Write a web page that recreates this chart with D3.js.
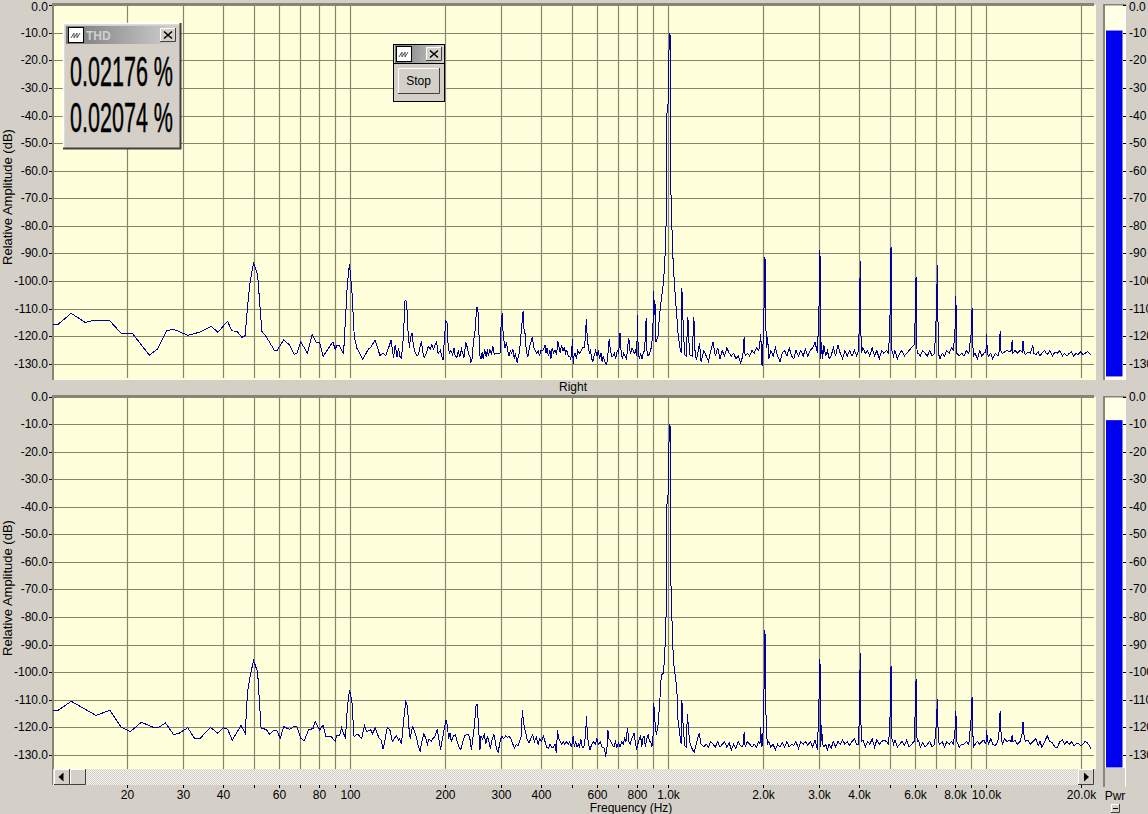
<!DOCTYPE html>
<html><head><meta charset="utf-8">
<script src="https://cdn.jsdelivr.net/npm/d3@7/dist/d3.min.js"></script>
<style>
html,body{margin:0;padding:0;background:#d4d0c8;overflow:hidden}
svg{display:block}
text{font-family:"Liberation Sans",Arial,sans-serif;font-size:12px;fill:#000}
</style></head><body>
<svg id="c" width="1148" height="814"></svg>
<script>
const dbTicks=[0,-10,-20,-30,-40,-50,-60,-70,-80,-90,-100,-110,-120,-130];
const freqGrid=[20,30,40,50,60,70,80,90,100,200,300,400,500,600,700,800,900,1000,2000,3000,4000,5000,6000,7000,8000,9000,10000,20000];
const freqLabels={20:"20",30:"30",40:"40",60:"60",80:"80",100:"100",200:"200",300:"300",400:"400",600:"600",800:"800",1000:"1.0k",2000:"2.0k",3000:"3.0k",4000:"4.0k",6000:"6.0k",8000:"8.0k",10000:"10.0k",20000:"20.0k"};
const thdReadings=["0.02176 %","0.02074 %"];
const pwrLevels=[-9,-8.4];
const pwrFloor=-134.4;

const leftLow=[[11.7,-115.5],[12.1,-115.5],[13.3,-111.5],[14.7,-114.8],[15.4,-114.3],[17.6,-114.3],[19.1,-118.8],[20.7,-118.8],[23.4,-126.7],[24.9,-124.3],[26.5,-117.8],[27.9,-117.3],[30.9,-119.5],[33.8,-118.3],[36.6,-116.2],[38.4,-118.4],[41.2,-114.4],[42.5,-117.9],[44.1,-118],[45.7,-120.2],[46.8,-119.6],[47.6,-109],[48.5,-100],[49.7,-93.3],[51.2,-97.6],[52.8,-118.1],[54.5,-120],[57.7,-124.8],[58.9,-125],[61.8,-121.2],[64.5,-123],[66.7,-126.4],[68,-126],[70,-121.9],[73.4,-126],[76,-119.1],[78.3,-122.1],[80.2,-122.1],[82.2,-127.2],[85.5,-124.2],[88.2,-121.9],[89.7,-124.5],[90.8,-123.3],[92.6,-123.3],[95.3,-126.4],[96.6,-113.9],[98,-100.6],[99.5,-93.6],[101.2,-103],[103,-120],[105,-124.2],[109.6,-128.2],[114,-124.5],[116,-123.8],[119.8,-121.2],[124,-126.8],[127,-125.9],[129.4,-126.8],[131.9,-124.2],[134.5,-121.2],[136.9,-127.8],[138.5,-123],[140.4,-127.4],[142,-124]];
const leftMid=[[143,-127],[145,-127.8],[147,-120],[148.8,-106.6],[150.5,-107.3],[152,-118],[153.5,-124],[155,-120],[156.5,-118.5],[158,-123],[160,-125.5],[162.5,-127],[164,-126.5],[166,-123.5],[167.5,-121.5],[169,-125.5],[171,-127.5],[173.5,-126],[176,-123.5],[178.5,-124.5],[180.5,-123],[183,-124.5],[185,-123],[187,-121.8],[189,-126],[192,-125],[194.5,-127.5],[196,-128.5],[198,-120],[200,-114.3],[201.5,-114.5],[203,-122],[205,-126],[207.5,-125],[210,-126.5],[212,-124],[214,-127],[216.5,-127.5],[219,-125],[221,-127.5],[224,-124.5],[226,-126],[228,-127.5],[231,-122],[233,-123.5],[236,-126.5],[238,-127],[239.5,-129.5],[242,-128],[244,-122],[247,-118],[250,-109.5],[252,-109.3],[254,-118.5],[256,-127],[258,-128],[260,-125.5],[262,-128],[265,-124.5],[268,-127.5],[270,-124.5],[272,-127],[275,-124.5],[278,-126.5],[281,-123.5],[284,-126.5],[288,-126],[292,-126],[296,-126],[299,-112.5],[301,-112],[303,-120],[305,-122],[307,-124],[310,-122],[313,-125],[316,-127],[319,-125],[322,-126],[325,-124.5],[328,-128],[331,-126],[335,-129.5],[338,-127],[341,-125.5],[344,-120],[347,-115],[350,-110.6],[352,-117],[355,-119],[358,-125],[362,-127.5],[366,-124],[370,-122],[374,-120],[378,-124],[382,-125],[386,-126],[390,-125],[394,-127],[398,-125],[403,-125],[408,-124],[410,-123],[413,-126],[416,-124],[420,-127],[425,-125],[428,-128],[432,-124],[436,-126],[441,-125],[446,-126.5],[450,-121.5],[454,-124],[458,-126],[462,-123],[467,-125],[472,-124],[476,-126],[480,-125],[485,-127],[490,-127],[494,-128],[497,-126],[500,-121],[503,-130],[506,-127],[510,-126],[515,-128],[520,-125],[525,-126],[530,-125.5],[538,-124],[545,-124],[550,-120],[553,-113.5],[556,-119],[560,-123],[565,-126],[570,-125],[575,-128],[580,-129],[585,-127],[592,-125],[598,-127],[604,-125],[608,-128],[615,-126],[620,-129],[625,-127],[632,-129],[640,-130],[645,-128],[651,-122],[653,-121],[657,-124],[664,-127],[670,-127],[678,-126],[684,-128],[692,-125],[700,-126],[703,-119],[707,-119],[712,-126],[718,-128],[725,-126],[732,-127],[740,-128],[747,-123],[753,-120.5],[757,-125],[763,-126],[770,-124],[776,-125],[783,-126],[790,-125],[797,-127],[800,-115],[802,-112],[805,-125],[812,-128],[820,-126],[828,-128],[835,-126],[843,-125],[848,-120],[853,-113.3],[857,-125],[865,-127],[875,-126],[885,-124],[895,-119],[901,-103.6],[906,-112],[909,-107],[916,-121.8],[929,-120],[941,-111.5],[952,-106.5],[968,-100],[982,-87],[988,-73],[992,-39],[1003,-34],[1008,-10],[1014,-10.5],[1016,-34],[1021,-68],[1030,-83.5],[1038,-94],[1048,-101.6],[1061,-110],[1074,-118.5],[1087,-123.5],[1100,-126],[1105,-102.4],[1113,-113],[1127,-126.5],[1140,-127],[1154,-112.7],[1168,-126.5],[1190,-127],[1205,-112.7],[1217,-127],[1230,-128]];
const leftHigh=[[1256,-122.4],[1270,-129],[1295,-125],[1318,-127],[1340,-129],[1362,-125],[1385,-122],[1408,-127],[1432,-124],[1456,-128],[1480,-125],[1505,-127],[1530,-124],[1556,-126],[1582,-127],[1608,-126],[1635,-128],[1662,-127],[1690,-129.5],[1718,-127],[1735,-120],[1747,-127],[1776,-126],[1806,-127],[1836,-125],[1866,-126],[1897,-124],[1928,-125],[1945,-122],[1955,-119],[1965,-124],[1975,-130.5],[1990,-122],[2003,-110],[2010,-91],[2018,-92],[2025,-110],[2038,-124],[2055,-120],[2075,-128],[2105,-125],[2140,-127],[2175,-124],[2210,-127],[2250,-129],[2285,-126],[2325,-125],[2365,-127],[2405,-124],[2445,-127],[2485,-128],[2525,-125],[2570,-127],[2615,-125],[2660,-127],[2705,-124.5],[2750,-127],[2800,-125],[2850,-124],[2900,-122],[2950,-126],[2985,-108],[3004,-88.6],[3012,-103.8],[3022,-128],[3040,-122],[3060,-128],[3090,-123],[3130,-127],[3170,-125],[3210,-128],[3255,-127],[3310,-124],[3365,-127],[3420,-123],[3480,-126],[3540,-128],[3600,-125],[3660,-127],[3725,-125],[3790,-127],[3855,-125],[3920,-127],[3975,-125],[4002,-110],[4022,-92.6],[4035,-110],[4050,-126],[4100,-124],[4170,-126],[4240,-125],[4310,-127],[4385,-124],[4460,-127],[4535,-125],[4615,-128],[4695,-125],[4775,-126],[4860,-125],[4940,-126],[5005,-108],[5026,-87.6],[5042,-106.7],[5060,-125],[5120,-127],[5170,-125],[5260,-128],[5350,-126],[5440,-125],[5535,-127],[5630,-126],[5730,-125],[5830,-124],[5940,-123],[5990,-113],[6025,-98.2],[6045,-112.9],[6070,-126],[6140,-126],[6210,-127],[6320,-125],[6430,-126],[6540,-127],[6650,-125],[6770,-127],[6890,-126],[6990,-110],[7030,-94],[7055,-110],[7085,-126],[7160,-128],[7280,-126],[7400,-127],[7530,-125],[7660,-126],[7790,-124],[7900,-125],[8005,-116],[8040,-105.2],[8065,-116],[8100,-126],[8240,-127],[8390,-126],[8530,-127],[8680,-125],[8830,-126],[8985,-118.7],[9040,-109.7],[9070,-118.7],[9120,-127],[9240,-126],[9400,-128],[9560,-125],[9700,-127],[9850,-126],[9990,-125.6],[10050,-119],[10090,-125.6],[10180,-127],[10350,-126],[10500,-128],[10700,-126],[10900,-127],[11020,-125],[11080,-117.9],[11130,-125],[11250,-126],[11450,-125.5],[11650,-125],[11850,-125.5],[12020,-125],[12090,-121.2],[12150,-126],[12350,-125],[12550,-126],[12800,-125],[13000,-125.5],[13080,-121.4],[13150,-125],[13300,-126.5],[13550,-125.5],[13800,-126],[14050,-123],[14120,-126],[14350,-126.5],[14600,-125.5],[14800,-127],[15000,-126],[15300,-125],[15600,-126.5],[15900,-125],[16200,-127],[16500,-125.5],[16800,-126],[17100,-125],[17400,-127],[17700,-126],[18000,-127],[18300,-126],[18600,-125.5],[18900,-127],[19200,-126],[19500,-126.5],[19900,-125.5],[20200,-126.5],[20500,-126],[20900,-125.5],[21400,-126.5]];

const rightLow=[[11.7,-113.6],[12.1,-113.7],[13.3,-110.4],[15.9,-115.5],[17.6,-113.7],[19.1,-119.8],[20.4,-121.4],[22.1,-118],[24,-119.8],[24.9,-120],[26.3,-118.3],[27.9,-122.5],[29,-122],[30.9,-120],[32.5,-124],[33.8,-123.8],[36.4,-119.9],[38.4,-122],[39.9,-120],[41.2,-120.5],[42.6,-124.5],[45.4,-119.2],[46.8,-122],[47.6,-107],[48.5,-101.5],[49.7,-95.5],[51.2,-99.8],[52.5,-120.2],[54.5,-120.6],[55.8,-122.4],[57.7,-120.8],[59,-121.2],[60.3,-123.9],[61.8,-119.6],[64.5,-120.6],[66.7,-119.5],[68,-119.6],[70,-123.9],[71.7,-124.7],[74,-120.8],[76.4,-120.3],[77.7,-117.7],[80.2,-120.8],[82.2,-119],[83.8,-123.2],[87.3,-123.2],[89.7,-125],[90.8,-122.7],[92.6,-122.7],[94,-120],[96.6,-123.9],[98,-112.4],[99.5,-106.4],[101.2,-110],[102.8,-123.2],[105.5,-122.3],[108.6,-123.9],[111,-119.2],[112.7,-121.4],[116,-120.8],[117.7,-122.2],[119.8,-120],[123.3,-123.9],[125,-124.3],[127,-127.8],[130.8,-120],[133.3,-120.8],[135.7,-125],[139.7,-122.8],[142,-124.5]];
const rightMid=[[143,-124],[145,-126],[147,-118],[149.5,-110.6],[151.3,-112],[153,-120],[154.5,-124],[156,-121],[157.5,-119.6],[160,-122],[162,-124],[164,-127],[166,-128.5],[168,-125],[170.5,-122],[173,-124],[175,-126],[177,-124],[180,-125],[182,-124],[185,-123],[188,-120.6],[190,-124],[192.5,-128],[195,-124],[198,-120],[200,-117.2],[202,-119],[204,-124],[206,-122],[208,-125],[211,-123],[214,-122.5],[217,-125],[220,-127],[223,-128],[226,-125],[229,-123],[233,-122.5],[236,-122.5],[238,-124],[240.5,-128],[243,-124],[246,-119],[249,-111.5],[251,-111.5],[254,-122],[256,-128],[258,-123],[261,-124],[264,-122.5],[267,-126],[270,-123],[273,-125],[276,-127.5],[280,-124],[283,-122.5],[286,-125],[289,-128],[292,-129],[296,-125],[300,-123],[304,-124],[308,-123],[312,-123.5],[316,-123],[320,-124],[325,-126],[329,-127.5],[333,-126],[337,-126.5],[341,-125],[345,-123],[348,-113.6],[351,-118],[355,-121],[360,-124],[365,-125.5],[370,-124],[375,-122.5],[380,-125],[385,-123.5],[390,-126],[395,-124],[400,-125],[405,-123],[410,-125],[415,-127],[420,-127.5],[425,-126],[430,-127],[436,-127],[441,-126],[445,-129],[449,-121],[453,-124],[458,-125],[463,-126],[468,-125],[473,-126],[478,-125],[485,-126],[490,-125],[497,-127],[503,-123],[507,-127],[512,-125],[517,-127],[522,-126],[527,-127],[531,-124],[537,-127],[543,-127],[550,-123],[553.5,-115.8],[557,-122],[562,-126],[568,-128],[575,-126],[582,-125],[590,-126],[597,-124],[604,-126],[612,-125],[620,-127],[628,-127],[636,-130],[641,-129],[647,-121],[652,-124],[660,-125],[667,-126],[675,-127],[683,-125],[690,-127],[698,-125.5],[706,-127],[715,-125],[722,-126],[730,-124],[737,-125],[745,-120],[753,-125],[760,-126],[768,-124],[776,-123],[781,-122],[788,-125],[796,-128],[803,-126],[812,-124],[820,-123],[826,-127],[832,-124],[840,-123],[848,-127],[856,-124],[865,-122.5],[875,-125],[882,-125],[889,-127],[896,-124],[901,-111],[909,-117.5],[918,-122.5],[929,-119.5],[941,-111],[952,-101],[968,-100],[982,-87],[988,-73],[992,-39],[1003,-34],[1008,-10],[1014,-10.5],[1016,-34],[1021,-68],[1030,-83.5],[1038,-94],[1048,-100],[1055,-101],[1067,-108],[1074,-117],[1087,-122],[1100,-126],[1105,-110],[1113,-117.5],[1127,-126.5],[1140,-127],[1150,-115],[1168,-125],[1182,-127],[1208,-129],[1225,-126]];
const rightHigh=[[1252,-122],[1270,-126],[1295,-127],[1318,-126],[1340,-127],[1362,-125],[1385,-126],[1408,-127],[1432,-125],[1456,-127],[1480,-126],[1505,-125],[1530,-127],[1556,-125.5],[1582,-128],[1608,-126],[1635,-127.5],[1662,-125],[1690,-126.5],[1718,-127],[1735,-121.5],[1747,-127],[1776,-125],[1806,-126],[1836,-127],[1866,-126],[1897,-127],[1928,-125],[1945,-126],[1956,-119.7],[1968,-127],[1985,-126],[2003,-106.5],[2010,-84.7],[2018,-86],[2025,-106.5],[2038,-122],[2055,-126],[2075,-125],[2105,-127],[2140,-126],[2175,-128],[2210,-126],[2250,-127],[2285,-125.5],[2325,-127],[2365,-125],[2405,-127],[2445,-126],[2485,-126.5],[2525,-125],[2570,-127.5],[2615,-125],[2660,-126],[2705,-125],[2750,-126.5],[2800,-125],[2850,-127],[2900,-124.5],[2950,-128],[2985,-108.5],[3004,-95],[3012,-106.5],[3022,-127],[3040,-119],[3060,-126],[3090,-127],[3130,-126],[3170,-128],[3210,-126],[3255,-127.5],[3310,-125],[3365,-127],[3420,-125],[3480,-126],[3540,-124.5],[3600,-126],[3660,-125],[3725,-126.5],[3790,-125],[3855,-124],[3920,-126],[3975,-126],[4002,-110],[4022,-92.9],[4035,-109.6],[4050,-125],[4100,-124.5],[4170,-127],[4240,-125],[4310,-126],[4385,-124],[4460,-127],[4535,-124.5],[4615,-126],[4695,-125],[4775,-124.5],[4860,-125],[4940,-126],[5005,-113],[5026,-97.5],[5042,-112.4],[5060,-124],[5120,-126],[5170,-124.5],[5260,-127],[5350,-126],[5440,-125],[5535,-126.5],[5630,-124.5],[5730,-127],[5830,-126],[5940,-125],[5990,-114],[6025,-102.3],[6045,-113.2],[6070,-125],[6140,-124.5],[6210,-127],[6320,-125.5],[6430,-127],[6540,-126],[6650,-125],[6770,-127],[6890,-126],[6990,-118],[7030,-109.5],[7055,-117.3],[7085,-125],[7160,-126],[7280,-125],[7400,-127],[7530,-125],[7660,-126],[7790,-125],[7900,-126],[8005,-120],[8040,-114],[8065,-120],[8100,-125],[8240,-127],[8390,-126],[8530,-126],[8680,-125],[8830,-126],[8985,-116.4],[9040,-108.7],[9070,-116.4],[9120,-127],[9240,-126],[9400,-125],[9560,-126],[9700,-125],[9850,-124.5],[9990,-126],[10050,-121],[10090,-124],[10180,-126],[10350,-124],[10500,-126],[10700,-126.5],[10900,-125],[11020,-120.5],[11080,-113.8],[11130,-120.5],[11250,-126],[11450,-124],[11650,-125],[11850,-124.5],[12020,-125],[12090,-122.5],[12150,-125],[12350,-124.5],[12550,-126],[12800,-125],[13000,-122],[13080,-117.8],[13150,-122],[13300,-125],[13550,-124.5],[13800,-126],[14050,-125],[14350,-124],[14600,-126.5],[14800,-125],[15000,-127],[15300,-125],[15600,-123],[15900,-125],[16200,-125.5],[16500,-127],[16800,-127],[17100,-125],[17400,-124.5],[17700,-126],[18000,-125],[18300,-126],[18600,-125],[18900,-126.5],[19200,-126],[19500,-125.5],[19900,-126.5],[20200,-126],[20500,-125],[20900,-125.5],[21400,-127.5]];

const GRID="#85856e", FACE="#d4d0c8", CREAM="#ffffdc", TRACE="#00009c";
const svg=d3.select("#c");
const defs=svg.append("defs");
const dith=defs.append("pattern").attr("id","dith").attr("width",2).attr("height",2).attr("patternUnits","userSpaceOnUse");
dith.append("rect").attr("width",2).attr("height",2).attr("fill","#f4f2ee");
dith.append("rect").attr("width",1).attr("height",1).attr("fill",FACE);
dith.append("rect").attr("x",1).attr("y",1).attr("width",1).attr("height",1).attr("fill",FACE);
const grad=defs.append("linearGradient").attr("id","title");
grad.append("stop").attr("offset","0").attr("stop-color","#777777");
grad.append("stop").attr("offset","1").attr("stop-color","#d0d0d0");

const x=d3.scaleLog().domain([11.66,100,10000,21900]).range([53,350.2,986,1094]);
const line=(y)=>d3.line().x(d=>x(d[0])).y(d=>y(d[1]));

const panels=[
 {name:"L",top:5,bottom:380,zero:5.7,low:364.3,data:[...leftLow,...leftMid,...leftHigh],pwr:pwrLevels[0],labelY:197,stripEnd:380},
 {name:"R",top:397,bottom:769,zero:397,low:755.3,data:[...rightLow,...rightMid,...rightHigh],pwr:pwrLevels[1],labelY:588,stripEnd:768}
];
const snap=v=>Math.floor(v)+.5;

panels.forEach((p,i)=>{
  const y=d3.scaleLinear().domain([0,-130]).range([p.zero,p.low]);
  const g=svg.append("g");
  g.append("rect").attr("x",53).attr("y",p.top).attr("width",1043).attr("height",p.bottom-p.top).attr("fill",CREAM);
  const gy=g.append("g").attr("transform","translate(53,0)").call(d3.axisLeft(y).tickValues(dbTicks).tickSize(-1041).tickFormat(""));
  gy.select(".domain").remove();
  gy.selectAll(".tick").attr("transform",d=>`translate(0,${snap(y(d))})`);
  gy.selectAll("line").attr("stroke",GRID).attr("stroke-width",1.2);
  const gridBottom=i===0?378:769;
  const gx=g.append("g").attr("transform",`translate(0,${gridBottom})`).call(d3.axisBottom(x).tickValues(freqGrid).tickSize(-(gridBottom-p.top)).tickFormat(""));
  gx.select(".domain").remove();
  gx.selectAll(".tick").attr("transform",d=>`translate(${snap(x(d))},0)`);
  gx.selectAll("line").attr("stroke",GRID).attr("stroke-width",1.2);
  g.append("rect").attr("x",53).attr("y",p.top-2).attr("width",1041).attr("height",3).attr("fill","#85857a");
  g.append("rect").attr("x",52).attr("y",p.top-2).attr("width",2).attr("height",p.bottom-p.top+2+(i?16:0)).attr("fill","#85857a");
  const ay=g.append("g").attr("transform","translate(52,0)").call(d3.axisLeft(y).tickValues(dbTicks).tickSize(3).tickPadding(1).tickFormat(d=>d3.format(".1f")(d).replace("\u2212","-")));
  ay.select(".domain").remove();
  ay.selectAll(".tick").attr("transform",d=>`translate(0,${snap(y(d))})`);
  ay.selectAll("line").attr("stroke","#000");
  ay.selectAll("text").attr("font-family",null).attr("font-size",null).attr("fill","#000").attr("y",d=>(i===0&&d===0)?2:null);
  svg.append("text").attr("transform",`translate(12,${p.labelY}) rotate(-90)`).attr("text-anchor","middle").style("font-size","13px").text("Relative Amplitude (dB)");
  g.append("path").datum(p.data).attr("d",line(y)).attr("fill","none").attr("stroke",TRACE).attr("stroke-width",1).attr("shape-rendering","crispEdges");
  g.append("rect").attr("x",1103).attr("y",p.top-1).attr("width",2).attr("height",p.bottom-p.top+(i?19:1)).attr("fill","#85857a");
  g.append("rect").attr("x",1105).attr("y",p.top).attr("width",20).attr("height",p.stripEnd-p.top).attr("fill","#ffffe8");
  g.append("rect").attr("x",1125).attr("y",p.top-1).attr("width",1).attr("height",p.bottom-p.top+(i?19:1)).attr("fill","#fff");
  g.append("rect").attr("x",1103).attr("y",p.top-1).attr("width",23).attr("height",1.5).attr("fill","#85857a");
  g.append("rect").attr("x",1106).attr("y",y(p.pwr)).attr("width",16.5).attr("height",y(pwrFloor)-y(p.pwr)).attr("fill","#0000f0");
  const ar=g.append("g").attr("transform","translate(1123,0)").call(d3.axisRight(y).tickValues(dbTicks).tickSize(3).tickPadding(3).tickFormat(d=>d===0?"0.0":String(d)));
  ar.select(".domain").remove();
  ar.selectAll(".tick").attr("transform",d=>`translate(0,${snap(y(d))})`);
  ar.selectAll("line").attr("stroke","#000");
  ar.selectAll("text").attr("font-family",null).attr("font-size",null).attr("fill","#000").attr("y",d=>(i===0&&d===0)?2:null);
});

svg.append("text").attr("x",573).attr("y",390.5).attr("text-anchor","middle").text("Right");

const sb=svg.append("g");
sb.append("rect").attr("x",53).attr("y",769).attr("width",1041).attr("height",16).attr("fill","url(#dith)");
function raised(sel,xx,yy,w,h){
  sel.append("rect").attr("x",xx).attr("y",yy).attr("width",w).attr("height",h).attr("fill",FACE);
  sel.append("path").attr("d",`M${xx+.5} ${yy+h}V${yy+.5}H${xx+w}`).attr("stroke","#fff").attr("fill","none");
  sel.append("path").attr("d",`M${xx+w-.5} ${yy}V${yy+h-.5}H${xx}`).attr("stroke","#404040").attr("fill","none");
}
raised(sb,54,769,16,16); raised(sb,70,769,16,16); raised(sb,1078,769,16,16);
sb.append("path").attr("d","M58.5 777l5-4.5v9z").attr("fill","#000");
sb.append("path").attr("d","M1089 777l-5-4.5v9z").attr("fill","#000");

const fa=svg.append("g").attr("transform","translate(0,785)").call(d3.axisBottom(x).tickValues(freqGrid).tickSize(3).tickPadding(2).tickFormat(d=>freqLabels[d]||""));
fa.select(".domain").remove();
fa.selectAll(".tick").attr("transform",d=>`translate(${snap(x(d))},0)`);
fa.selectAll("line").attr("stroke","#000");
fa.selectAll("text").attr("font-family",null).attr("font-size",null).attr("fill","#000");
svg.append("text").attr("x",631).attr("y",812).attr("text-anchor","middle").text("Frequency (Hz)");
svg.append("text").attr("x",1115).attr("y",800).attr("text-anchor","middle").text("Pwr");
const mb=svg.append("g"); raised(mb,1111,804,9,9);
mb.append("rect").attr("x",1113).attr("y",808).attr("width",5).attr("height",1).attr("fill","#000");

function icon(sel,xx,yy){
  sel.append("rect").attr("x",xx+.5).attr("y",yy+.5).attr("width",15).attr("height",15).attr("fill","#fff").attr("stroke","#000");
  sel.append("path").attr("d",`M${xx+3} ${yy+11}l3-5v5l3-5v5l3-5`).attr("fill","none").attr("stroke","#555");
}
function closeBtn(sel,xx,yy){
  raised(sel,xx,yy,16,14);
  sel.append("path").attr("d",`M${xx+4} ${yy+3.5}l8 7m0-7l-8 7`).attr("stroke","#000").attr("stroke-width",1.6);
}
const thd=svg.append("g");
thd.append("rect").attr("x",63).attr("y",23).attr("width",118).attr("height",126).attr("fill",FACE);
thd.append("path").attr("d","M63.5 149V23.5H181").attr("stroke","#fff").attr("stroke-width",1.5).attr("fill","none");
thd.append("path").attr("d","M180.5 23V148.5H63").attr("stroke","#404040").attr("stroke-width",2).attr("fill","none");
thd.append("rect").attr("x",66).attr("y",26).attr("width",110).attr("height",18).attr("fill","url(#title)");
icon(thd,68,27);
thd.append("text").attr("x",86).attr("y",40).attr("font-weight","bold").style("fill","#cfcfcf").text("THD");
closeBtn(thd,160,28);
thdReadings.forEach((t,i)=>{
  thd.append("text").attr("x",70).attr("y",[86,131.5][i]).attr("textLength",103).attr("lengthAdjust","spacingAndGlyphs")
    .style("font-size","43px").style("font-family",'"Liberation Sans Narrow","Liberation Sans",sans-serif')
    .style("stroke","#000").style("stroke-width","0.5").text(t);
});
const stop=svg.append("g");
stop.append("rect").attr("x",393.5).attr("y",44.5).attr("width",51).attr("height",57).attr("fill",FACE).attr("stroke","#000");
stop.append("rect").attr("x",395).attr("y",45).attr("width",49).attr("height",18).attr("fill","url(#title)");
stop.append("path").attr("d","M394 63.5H444").attr("stroke","#000");
icon(stop,396,46);
closeBtn(stop,426,47);
raised(stop,398,68,42,26);
stop.append("text").attr("x",418.5).attr("y",85).attr("text-anchor","middle").text("Stop");
</script>
</body></html>
